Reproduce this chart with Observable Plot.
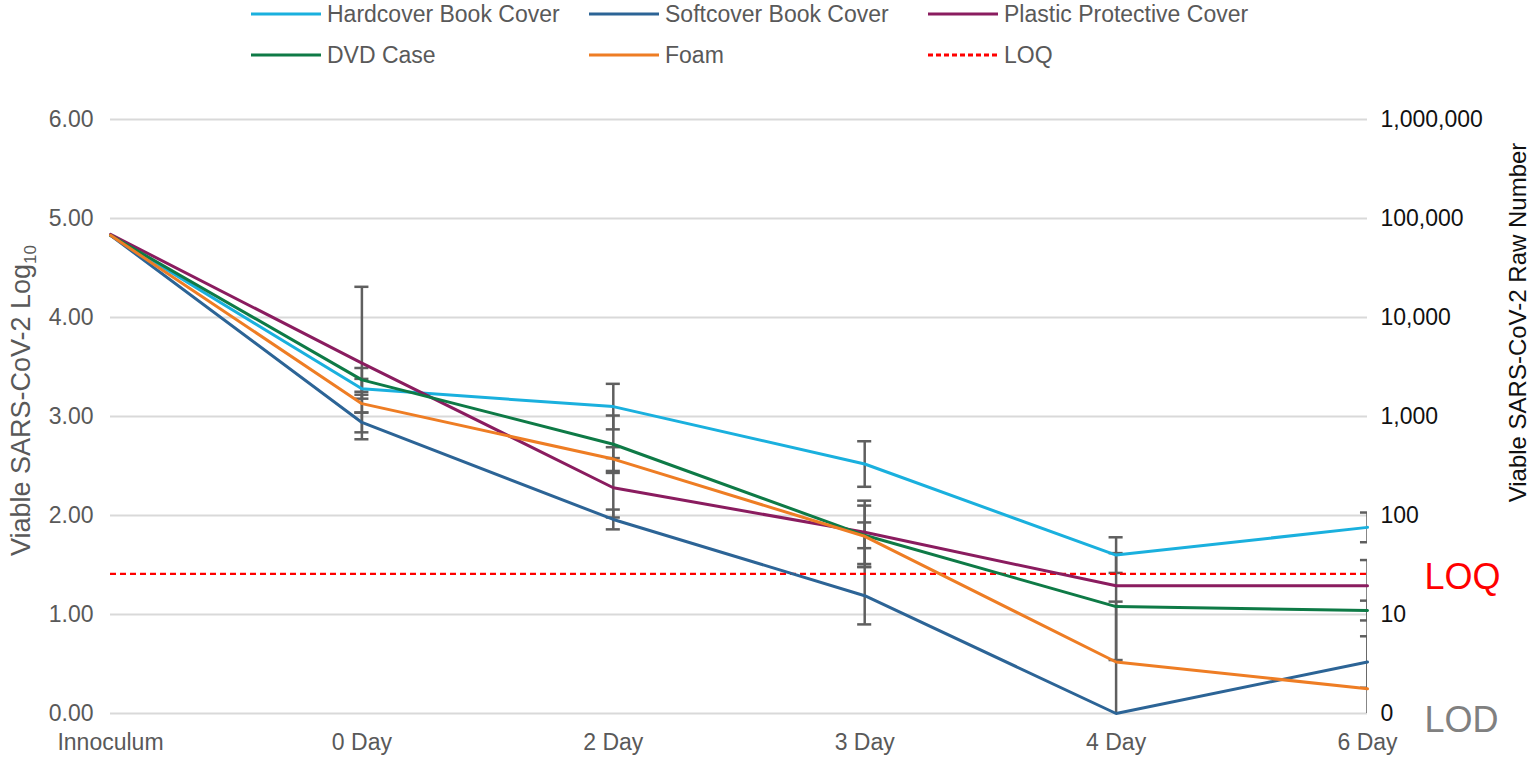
<!DOCTYPE html>
<html>
<head>
<meta charset="utf-8">
<script src="https://cdn.jsdelivr.net/npm/d3@7"></script>
<script src="https://cdn.jsdelivr.net/npm/@observablehq/plot@0.6"></script>
<style>
  html, body { margin: 0; padding: 0; background: #fff; }
  body { width: 1532px; height: 760px; overflow: hidden; font-family: "Liberation Sans", Arial, sans-serif; }
  #legend { position: relative; width: 1532px; height: 75px; }
  .item { position: absolute; display: flex; align-items: center; color: #595959; font-size: 23px; white-space: nowrap; }
  .item svg { margin-right: 6px; }
</style>
</head>
<body>
<div id="legend"></div>
<div id="chart"></div>
<script>
// ---- data ----
const categories = ["Innoculum", "0 Day", "2 Day", "3 Day", "4 Day", "6 Day"];
const seriesNames = ["Hardcover Book Cover", "Softcover Book Cover", "Plastic Protective Cover", "DVD Case", "Foam"];
const seriesColors = ["#1ab0de", "#2c6496", "#8a1c5f", "#0e7a46", "#ee7d24"];

const hardcover = [4.83, 3.28, 3.10, 2.52, 1.60, 1.88];
const softcover = [4.83, 2.94, 1.96, 1.19, 0.00, 0.52];
const plastic   = [4.84, 3.54, 2.28, 1.83, 1.29, 1.29];
const dvdCase   = [4.83, 3.37, 2.72, 1.80, 1.08, 1.04];
const foam      = [4.83, 3.13, 2.57, 1.79, 0.52, 0.25];

const hardcoverErr = [0, 0.10, 0.23, 0.23, 0.18, 0.15];
const softcoverErr = [0, 0.10, 0.10, 0.29, 0.00, 0.26];
const plasticErr   = [0, 0.77, 0.30, 0.32, 0.00, 0.00];
const dvdCaseErr   = [0, 0.12, 0.29, 0.13, 0.54, 0.10];
const foamErr      = [0, 0.09, 0.12, 0.31, 0.61, 1.30];

const LOQ = 1.41;
const leftTicks = [0, 1, 2, 3, 4, 5, 6];
const rightTickRaw = [1000000, 100000, 10000, 1000, 100, 10, 0];

// ---- build tables ----
const values = [hardcover, softcover, plastic, dvdCase, foam];
const errs = [hardcoverErr, softcoverErr, plasticErr, dvdCaseErr, foamErr];
const rows = seriesNames.flatMap((name, s) => values[s].map((v, i) => ({series: name, i, v, e: errs[s][i]})));
const errRows = rows.filter(d => d.e > 0).map(d => ({...d, lo: Math.max(0, d.v - d.e), hi: d.v + d.e}));
const capHalf = 0.028;

// ---- legend ----
const legendItems = [
  ...seriesNames.map((n, s) => ({name: n, color: seriesColors[s], dash: null})),
  {name: "LOQ", color: "#ff0000", dash: "5,3"}
];
const colX = [251, 589, 928];
const rowY = [14, 55];
const legend = document.getElementById("legend");
legendItems.forEach((it, k) => {
  const div = document.createElement("div");
  div.className = "item";
  div.style.left = colX[k % 3] + "px";
  div.style.top = (rowY[Math.floor(k / 3)] - 14) + "px";
  div.style.height = "28px";
  div.innerHTML = `<svg width="70" height="6"><line x1="0" x2="70" y1="3" y2="3" stroke="${it.color}" stroke-width="3" ${it.dash ? `stroke-dasharray="${it.dash}"` : ""}/></svg><span>${it.name}</span>`;
  legend.appendChild(div);
});

// ---- chart ----
const plot = Plot.plot({
  width: 1532,
  height: 685,
  marginTop: 44,
  marginBottom: 47,
  marginLeft: 110,
  marginRight: 165,
  style: {fontFamily: "Liberation Sans, Arial, sans-serif", fontSize: "23px", background: "#fff"},
  x: {domain: [0, 5]},
  y: {domain: [0, 6]},
  color: {domain: seriesNames, range: seriesColors},
  marks: [
    Plot.gridY(leftTicks, {stroke: "#d9d9d9", strokeOpacity: 1, strokeWidth: 2}),
    Plot.axisY(leftTicks, {anchor: "left", tickSize: 0, tickPadding: 17, tickFormat: d3.format(".2f"), fill: "#595959", label: null}),
    Plot.axisY(rightTickRaw.map(r => r === 0 ? 0 : Math.log10(r)), {anchor: "right", tickSize: 0, tickPadding: 13, tickFormat: v => d3.format(",")(v === 0 ? 0 : Math.round(10 ** v)), fill: "#111", label: null}),
    Plot.axisX(d3.range(categories.length), {anchor: "bottom", tickSize: 0, tickPadding: 20, tickFormat: i => categories[i], fill: "#595959", label: null}),
    Plot.ruleX(errRows, {x: "i", y1: "lo", y2: "hi", stroke: "#5f5f5f", strokeWidth: 2.5, clip: true}),
    Plot.ruleY(errRows, {y: "hi", x1: d => d.i - capHalf, x2: d => d.i + capHalf, stroke: "#5f5f5f", strokeWidth: 2.5, clip: true}),
    Plot.ruleY(errRows.filter(d => d.v - d.e >= 0), {y: "lo", x1: d => d.i - capHalf, x2: d => d.i + capHalf, stroke: "#5f5f5f", strokeWidth: 2.5, clip: true}),
    Plot.ruleY([LOQ], {stroke: "#ff0000", strokeWidth: 2.2, strokeDasharray: "6,4"}),
    Plot.line(rows, {x: "i", y: "v", z: "series", stroke: "series", strokeWidth: 3}),
    Plot.text([LOQ], {x: 5, y: d => d, dx: 95, dy: 4, text: () => "LOQ", fill: "#ff0000", fontSize: 36, textAnchor: "middle"}),
    Plot.text([0], {x: 5, y: d => d, dx: 94, dy: 7, text: () => "LOD", fill: "#808080", fontSize: 36, textAnchor: "middle"}),
    Plot.text(["Viable SARS-CoV-2 Log10"], {frameAnchor: "left", dx: -89, dy: -16, rotate: -90, textAnchor: "middle", text: d => d, fill: "#595959", fontSize: 27}),
    Plot.text(["Viable SARS-CoV-2 Raw Number"], {frameAnchor: "right", dx: 151, dy: -94, rotate: -90, textAnchor: "middle", text: d => d, fill: "#111", fontSize: 24})
  ]
});
document.getElementById("chart").appendChild(plot);

// subscript for "Log10"
d3.select(plot).selectAll("text").each(function () {
  if (this.textContent === "Viable SARS-CoV-2 Log10") {
    const t = d3.select(this);
    t.text("Viable SARS-CoV-2 Log");
    t.append("tspan").attr("font-size", 17).attr("dy", "0.35em").text("10");
  }
});
</script>
</body>
</html>
